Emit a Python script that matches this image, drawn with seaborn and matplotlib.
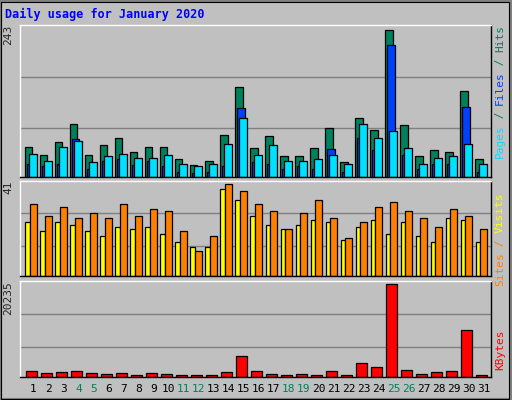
import matplotlib
matplotlib.use("Agg")
import matplotlib.pyplot as plt
import seaborn as sns
import numpy as np
from matplotlib.patches import Rectangle

sns.set_style("white")
plt.rcParams['font.family'] = ['DejaVu Sans Mono']

days = list(range(1, 32))
weekend = [4, 5, 11, 12, 18, 19, 25, 26]
hits = [50,36,57,87,37,52,65,42,50,50,29,19,27,69,148,47,67,34,34,47,80,24,98,77,243,85,34,44,41,141,29]
files = [22,18,21,62,14,26,29,19,27,18,9,6,8,18,113,24,22,13,18,14,46,9,64,44,218,37,14,22,22,116,9]
pages = [38,27,50,60,24,34,38,31,32,37,21,18,21,55,98,37,52,27,27,29,37,22,88,65,75,47,22,32,34,54,22]
visits = [24,20,24,23,20,18,22,21,22,19,15,13,13,39,34,27,23,21,23,25,24,16,22,25,19,24,18,15,26,25,15]
sites = [32,27,31,26,28,26,32,27,30,29,20,11,18,41,38,32,29,21,28,34,26,17,24,31,33,29,26,22,30,27,21]
kbytes = [1250,810,1030,1250,810,590,810,370,810,590,370,370,370,1030,4560,1250,590,370,590,370,1250,370,3020,2130,20235,1470,590,1030,1250,10300,370]

BG = '#C0C0C0'
fig = plt.figure(figsize=(5.12, 4.0), dpi=100, facecolor=BG)
W, H = 512, 400
fig.patches.append(Rectangle((0, 0), 1, 1, transform=fig.transFigure, fill=False, ec='#808080', lw=3))
fig.patches.append(Rectangle((0.002, 0.003), 0.992, 0.993, transform=fig.transFigure, fill=False, ec='black', lw=0.8))

def mkax(top, bot):
    ax = fig.add_axes([20/W, 1-bot/H, 471/W, (bot-top)/H])
    ax.set_facecolor(BG)
    ax.set_xlim(0.367, 31.74)
    for s in ax.spines.values():
        s.set_color('black'); s.set_linewidth(1)
    ax.spines['top'].set_color('white'); ax.spines['left'].set_color('white')
    ax.set_xticks([]); ax.set_yticks([])
    return ax

x = np.array(days, dtype=float)
kw = dict(align='edge', edgecolor='black', linewidth=0.9)

ax1 = mkax(25, 177)
top1 = 243 / 0.97
ax1.set_ylim(0, top1)
for g in (top1*0.325, top1*0.66):
    ax1.axhline(g, color='#808080', lw=1, zorder=0)
ax1.bar(x-0.3, hits, width=0.49, color='#00805C', **kw)
ax1.bar(x-0.19, files, width=0.52, color='#0040FF', **kw)
ax1.bar(x-0.03, pages, width=0.51, color='#00E0FF', **kw)
ax1.text(-0.025, 1.0, '243', transform=ax1.transAxes, rotation=90, ha='center', va='top', fontsize=8)

ax2 = mkax(181, 276)
top2 = 41 / 0.965
ax2.set_ylim(0, top2)
for g in (top2*0.317, top2*0.66):
    ax2.axhline(g, color='#808080', lw=1, zorder=0)
ax2.bar(x-0.28, visits, width=0.28, color='#FFFF00', **kw)
ax2.bar(x, sites, width=0.49, color='#FF8000', **kw)
ax2.text(-0.025, 1.0, '41', transform=ax2.transAxes, rotation=90, ha='center', va='top', fontsize=8)

ax3 = mkax(281, 377)
top3 = 20235 / 0.965
ax3.set_ylim(0, top3)
for g in (top3*0.31, top3*0.66):
    ax3.axhline(g, color='#808080', lw=1, zorder=0)
ax3.bar(x-0.23, kbytes, width=0.71, color='#FF0000', **kw)
ax3.text(-0.025, 1.0, '20235', transform=ax3.transAxes, rotation=90, ha='center', va='top', fontsize=8)

for d in days:
    ax3.text(d+0.26, -0.12, str(d), transform=ax3.get_xaxis_transform(), ha='center', va='center',
             fontsize=8, color='#00805C' if d in weekend else 'black')

fig.text(5/W, 1-14/H, 'Daily usage for January 2020', color='#0000FF', fontsize=8.5,
         fontweight='bold', ha='left', va='center')

def rlabel(ycenter, parts):
    # parts from bottom to top
    fs = 8
    total = sum(len(p[0]) for p in parts)
    ch = 6.6
    y = ycenter + total*ch/2
    for txt, col in parts:
        fig.text(500/W, 1-y/H, txt, color=col, rotation=90, fontsize=fs, ha='center', va='bottom')
        y -= len(txt)*ch

rlabel(92, [('Pages', '#00E0FF'), (' / ', '#00805C'), ('Files', '#0040FF'), (' / ', '#00805C'), ('Hits', '#00805C')])
rlabel(240, [('Sites', '#FF8000'), (' / ', '#FF8000'), ('Visits', '#FFFF00')])
rlabel(350, [('KBytes', '#FF0000')])

fig.savefig('out.png', dpi=100, facecolor=BG)
